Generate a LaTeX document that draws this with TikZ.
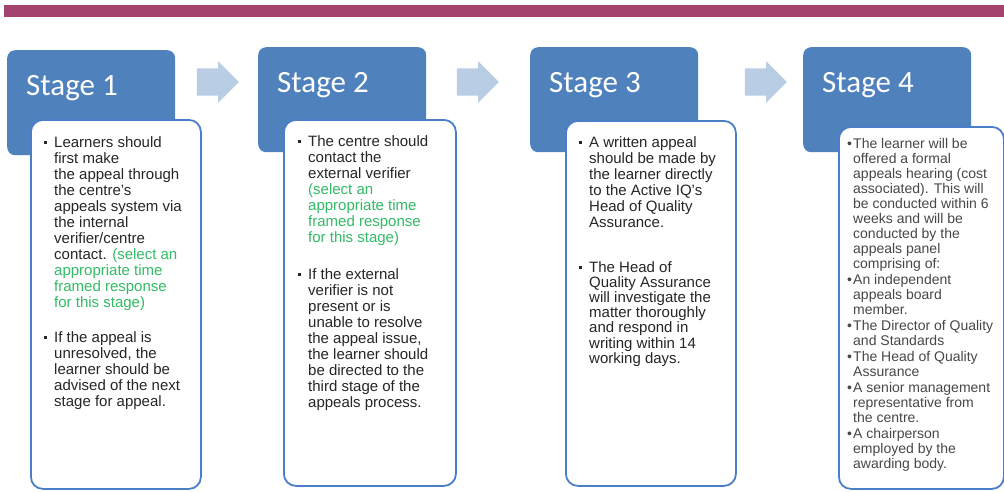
\documentclass[tikz,border=0pt]{standalone}
\usepackage{fontspec}
\setmainfont{Liberation Sans}
\newfontfamily\stagefont{Carlito}
\usepackage{xcolor}
\usetikzlibrary{shapes.arrows}
\definecolor{bar}{HTML}{A4436E}
\definecolor{stageblue}{HTML}{4F81BD}
\definecolor{frame}{HTML}{4A7EC6}
\definecolor{arrowfill}{HTML}{B9CDE5}
\definecolor{note}{HTML}{33BB66}
\definecolor{ink}{HTML}{262626}
\newcommand\sqbul{\makebox[10pt][l]{\rule[3.5pt]{3pt}{3pt}}}
\newcommand\rdbul{\makebox[6pt][l]{\textbullet}}
\newcommand\greennote[1]{\textcolor{note}{#1}}
\tikzset{
  stagebox/.style={fill=stageblue, rounded corners=8pt, anchor=north west,
    minimum width=168pt, minimum height=105pt, inner sep=0pt},
  stagelab/.style={anchor=base west, inner sep=0pt, text=white,
    font=\stagefont\fontsize{31}{31}\selectfont},
  panel/.style={fill=white, draw=frame, line width=1.8pt, rounded corners=12pt,
    anchor=north west, inner sep=0pt},
  flowarrow/.style={single arrow, fill=arrowfill, inner xsep=0pt, inner ysep=13.5pt,
    minimum height=42pt, single arrow head extend=7pt},
  bodytext/.style={anchor=base west, inner sep=0pt, text=ink,
    font=\fontsize{15}{16}\selectfont},
  listtext/.style={bodytext, text=ink!85, font=\fontsize{14}{15}\selectfont},
}

\begin{document}
\begin{tikzpicture}[x=1pt, y=-1pt]
  \useasboundingbox (0,0) rectangle (1004,491);
  \fill[bar] (4,5) rectangle (1004,17);

  % stage headers and panels
  \node[stagebox] (s1) at (7,50) {};
  \node[stagebox] (s2) at (258,47) {};
  \node[stagebox] (s3) at (530,47) {};
  \node[stagebox] (s4) at (803,47) {};
  \node[stagelab] (l1) at ([shift={(19,45)}]s1.north west) {Stage 1};
  \node[stagelab] (l2) at ([shift={(19,45)}]s2.north west) {Stage 2};
  \node[stagelab] (l3) at ([shift={(19,45)}]s3.north west) {Stage 3};
  \node[stagelab] (l4) at ([shift={(19,45)}]s4.north west) {Stage 4};

  \node[panel, minimum width=170pt, minimum height=369pt] (b1) at (30,119) {};
  \node[panel, minimum width=172pt, minimum height=366pt] (b2) at (283,119) {};
  \node[panel, minimum width=170pt, minimum height=365pt] (b3) at (565,120) {};
  \node[panel, minimum width=165pt, minimum height=362pt] (b4) at (838,126) {};

  \node[flowarrow] (a1) at (211,82) {};
  \node[flowarrow] (a2) at (471,82) {};
  \node[flowarrow] (a3) at (759,82) {};

  % stage 1
  \node[bodytext] (t1a) at (44,147) {\begin{tabular}[t]{@{}l@{}l@{}}
    \sqbul & Learners should\\
    & first make\\
    & the appeal through\\
    & the centre’s\\
    & appeals system via\\
    & the internal\\
    & verifier/centre\\
    & contact. \greennote{(select an}\\
    & \greennote{appropriate time}\\
    & \greennote{framed response}\\
    & \greennote{for this stage)}
  \end{tabular}};
  \node[bodytext] (t1b) at (44,342) {\begin{tabular}[t]{@{}l@{}l@{}}
    \sqbul & If the appeal is\\
    & unresolved, the\\
    & learner should be\\
    & advised of the next\\
    & stage for appeal.
  \end{tabular}};

  % stage 2
  \node[bodytext] (t2a) at (298,146) {\begin{tabular}[t]{@{}l@{}l@{}}
    \sqbul & The centre should\\
    & contact the\\
    & external verifier\\
    & \greennote{(select an}\\
    & \greennote{appropriate time}\\
    & \greennote{framed response}\\
    & \greennote{for this stage)}
  \end{tabular}};
  \node[bodytext] (t2b) at (298,279) {\begin{tabular}[t]{@{}l@{}l@{}}
    \sqbul & If the external\\
    & verifier is not\\
    & present or is\\
    & unable to resolve\\
    & the appeal issue,\\
    & the learner should\\
    & be directed to the\\
    & third stage of the\\
    & appeals process.
  \end{tabular}};

  % stage 3
  \node[bodytext] (t3a) at (579,147) {\begin{tabular}[t]{@{}l@{}l@{}}
    \sqbul & A written appeal\\
    & should be made by\\
    & the learner directly\\
    & to the Active IQ’s\\
    & Head of Quality\\
    & Assurance.
  \end{tabular}};
  \node[bodytext, font=\fontsize{15}{14.5}\selectfont] (t3b) at (579,272) {\begin{tabular}[t]{@{}l@{}l@{}}
    \sqbul & The Head of\\
    & Quality Assurance\\
    & will investigate the\\
    & matter thoroughly\\
    & and respond in\\
    & writing within 14\\
    & working days.
  \end{tabular}};

  % stage 4
  \node[listtext] (t4) at (847,148) {\begin{tabular}[t]{@{}l@{}l@{}}
    \rdbul & The learner will be\\
    & offered a formal\\
    & appeals hearing (cost\\
    & associated). This will\\
    & be conducted within 6\\
    & weeks and will be\\
    & conducted by the\\
    & appeals panel\\
    & comprising of:\\[1pt]
    \rdbul & An independent\\
    & appeals board\\
    & member.\\[1pt]
    \rdbul & The Director of Quality\\
    & and Standards\\[1pt]
    \rdbul & The Head of Quality\\
    & Assurance\\[1pt]
    \rdbul & A senior management\\
    & representative from\\
    & the centre.\\[1pt]
    \rdbul & A chairperson\\
    & employed by the\\
    & awarding body.
  \end{tabular}};
\end{tikzpicture}
\end{document}
